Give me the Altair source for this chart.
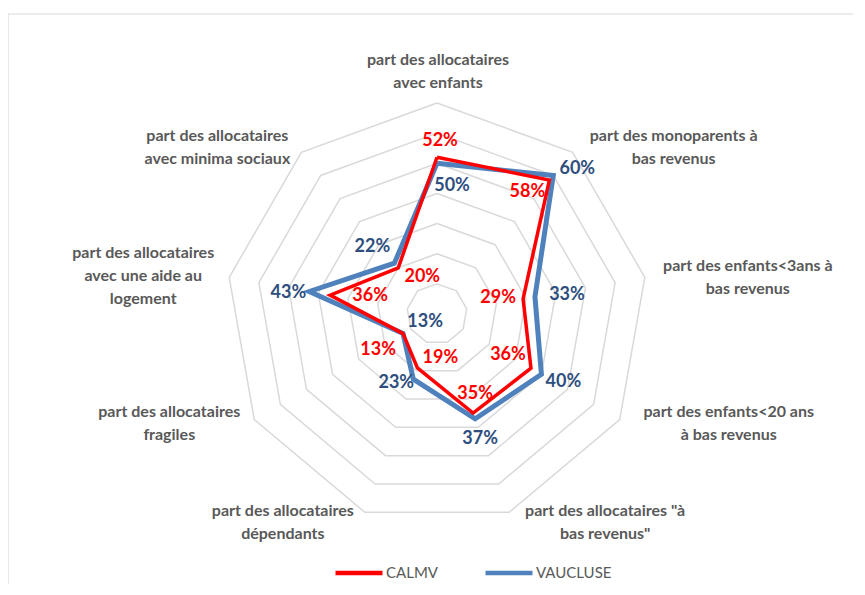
import altair as alt
import pandas as pd

# ---------------- data ----------------
categories = [
    "part des allocataires\navec enfants",
    "part des monoparents à\nbas revenus",
    "part des enfants<3ans à\nbas revenus",
    "part des enfants<20 ans\nà bas revenus",
    "part des allocataires \"à\nbas revenus\"",
    "part des allocataires\ndépendants",
    "part des allocataires\nfragiles",
    "part des allocataires\navec une aide au\nlogement",
    "part des allocataires\navec minima sociaux",
]
series_names = ["CALMV", "VAUCLUSE"]
calmv = [52, 58, 29, 36, 35, 19, 13, 36, 20]
vaucluse = [50, 60, 33, 40, 37, 23, 13, 43, 22]
ring_levels = [10, 20, 30, 40, 50, 60, 70]

# ---------------- layout (pixels) ----------------
calmv_lab_dx = [3, -22, -25, -23, 2, 23, -25, 40, 24]
calmv_lab_dy = [-16, 12, -1, -13, -19, -10, 16, 1, 9]
vauc_lab_dx = [15, 24, 32, 22, 5, -17, 22, -21, -22]
vauc_lab_dy = [23, -6, -2, 8, 20, 4, -12, 2, -16]
cat_dx = [1, 101, 103, 109, 96, -82, -85, -86, -84]
cat_dy = [-32, -5, 0, 4, 10, 10, 4, -1, -5]

N = len(categories)
RMAX = ring_levels[-1]
SIZE = 422
PPU = SIZE / (2 * RMAX)
LINE_H = 23

RED = "#FF0000"
BLUE = "#4F81BD"
BLUE_TXT = "#2E4E7E"
GREY_TXT = "#595959"
GRID = "#D9D9D9"

xs = alt.Scale(domain=[-RMAX, RMAX])
ys = alt.Scale(domain=[-RMAX, RMAX])
angle_expr = f"datum.idx * 2 * PI / {N}"


def polar(chart):
    return chart.transform_calculate(ang=angle_expr).transform_calculate(
        px="datum.value * sin(datum.ang)", py="datum.value * cos(datum.ang)"
    )


X = alt.X("px:Q", scale=xs, axis=None)
Y = alt.Y("py:Q", scale=ys, axis=None)

# grid rings
ring_rows = [
    {"level": lv, "idx": i, "value": lv} for lv in ring_levels for i in range(N + 1)
]
rings = polar(alt.Chart(pd.DataFrame(ring_rows))).mark_line(
    color=GRID, strokeWidth=1.5
).encode(x=X, y=Y, order="idx:Q", detail="level:N")


# series
def series_df(name, vals):
    rows = [{"series": name, "idx": i, "value": v} for i, v in enumerate(vals)]
    rows.append({"series": name, "idx": N, "value": vals[0]})
    return pd.DataFrame(rows)


color = alt.Color(
    "series:N",
    scale=alt.Scale(domain=series_names, range=[RED, BLUE]),
    legend=alt.Legend(
        title=None,
        orient="none",
        direction="horizontal",
        legendX=107,
        legendY=444,
        symbolType="stroke",
        symbolSize=2209,
        symbolStrokeWidth=4.5,
        labelFont="Lato",
        labelFontSize=15,
        labelColor=GREY_TXT,
        labelOffset=1,
        columnPadding=38,
    ),
)

blue_line = polar(alt.Chart(series_df("VAUCLUSE", vaucluse))).mark_line(
    strokeWidth=5, strokeJoin="miter"
).encode(x=X, y=Y, order="idx:Q", color=color)
red_line = polar(alt.Chart(series_df("CALMV", calmv))).mark_line(
    strokeWidth=3.5, strokeJoin="miter"
).encode(x=X, y=Y, order="idx:Q", color=color)


# data labels
def label_df(name, vals, dx, dy):
    return pd.DataFrame(
        {
            "series": name,
            "idx": list(range(N)),
            "value": vals,
            "dx": dx,
            "dy": dy,
            "txt": [f"{v}%" for v in vals],
        }
    )


def labels(df, col):
    return (
        polar(alt.Chart(df))
        .transform_calculate(
            lx=f"datum.px + datum.dx / {PPU}", ly=f"datum.py - datum.dy / {PPU}"
        )
        .mark_text(
            font="Lato", fontSize=18, fontWeight="bold", color=col,
            align="center", baseline="middle",
        )
        .encode(
            x=alt.X("lx:Q", scale=xs, axis=None),
            y=alt.Y("ly:Q", scale=ys, axis=None),
            text="txt:N",
        )
    )


red_lab = labels(label_df("CALMV", calmv, calmv_lab_dx, calmv_lab_dy), RED)
blue_lab = labels(label_df("VAUCLUSE", vaucluse, vauc_lab_dx, vauc_lab_dy), BLUE_TXT)

# category labels (multi-line blocks centred on their anchor)
cat_df = pd.DataFrame(
    {"idx": list(range(N)), "value": [RMAX] * N, "dx": cat_dx, "dy": cat_dy,
     "label": categories}
)
cat_lab = (
    polar(alt.Chart(cat_df))
    .transform_calculate(lines="split(datum.label, '\\n')")
    .transform_calculate(
        lx=f"datum.px + datum.dx / {PPU}",
        ly=f"datum.py - (datum.dy - (length(datum.lines) - 1) * {LINE_H / 2}) / {PPU}",
    )
    .mark_text(
        font="Lato", fontSize=16, fontWeight="bold", color=GREY_TXT,
        align="center", baseline="middle", lineHeight=LINE_H,
    )
    .encode(
        x=alt.X("lx:Q", scale=xs, axis=None),
        y=alt.Y("ly:Q", scale=ys, axis=None),
        text="lines:N",
    )
)

# chart frame
frame_top = alt.Chart(pd.DataFrame({"k": [0]})).mark_rule(color=GRID, strokeWidth=1.2).encode(
    x=alt.value(-218), x2=alt.value(627), y=alt.value(-89)
)
frame_left = alt.Chart(pd.DataFrame({"k": [0]})).mark_rule(color=GRID, strokeWidth=1.2).encode(
    x=alt.value(-218), y=alt.value(-89), y2=alt.value(481)
)

chart = (
    alt.layer(frame_top, frame_left, rings, blue_line, red_line, cat_lab, red_lab, blue_lab)
    .properties(
        width=SIZE,
        height=SIZE,
        autosize=alt.AutoSizeParams(type="none"),
        padding={"left": 218, "top": 95, "right": 205, "bottom": 59},
        background="white",
    )
    .configure_view(stroke=None)
)

chart.save("out.html", embed_options={"renderer": "svg", "actions": False})
